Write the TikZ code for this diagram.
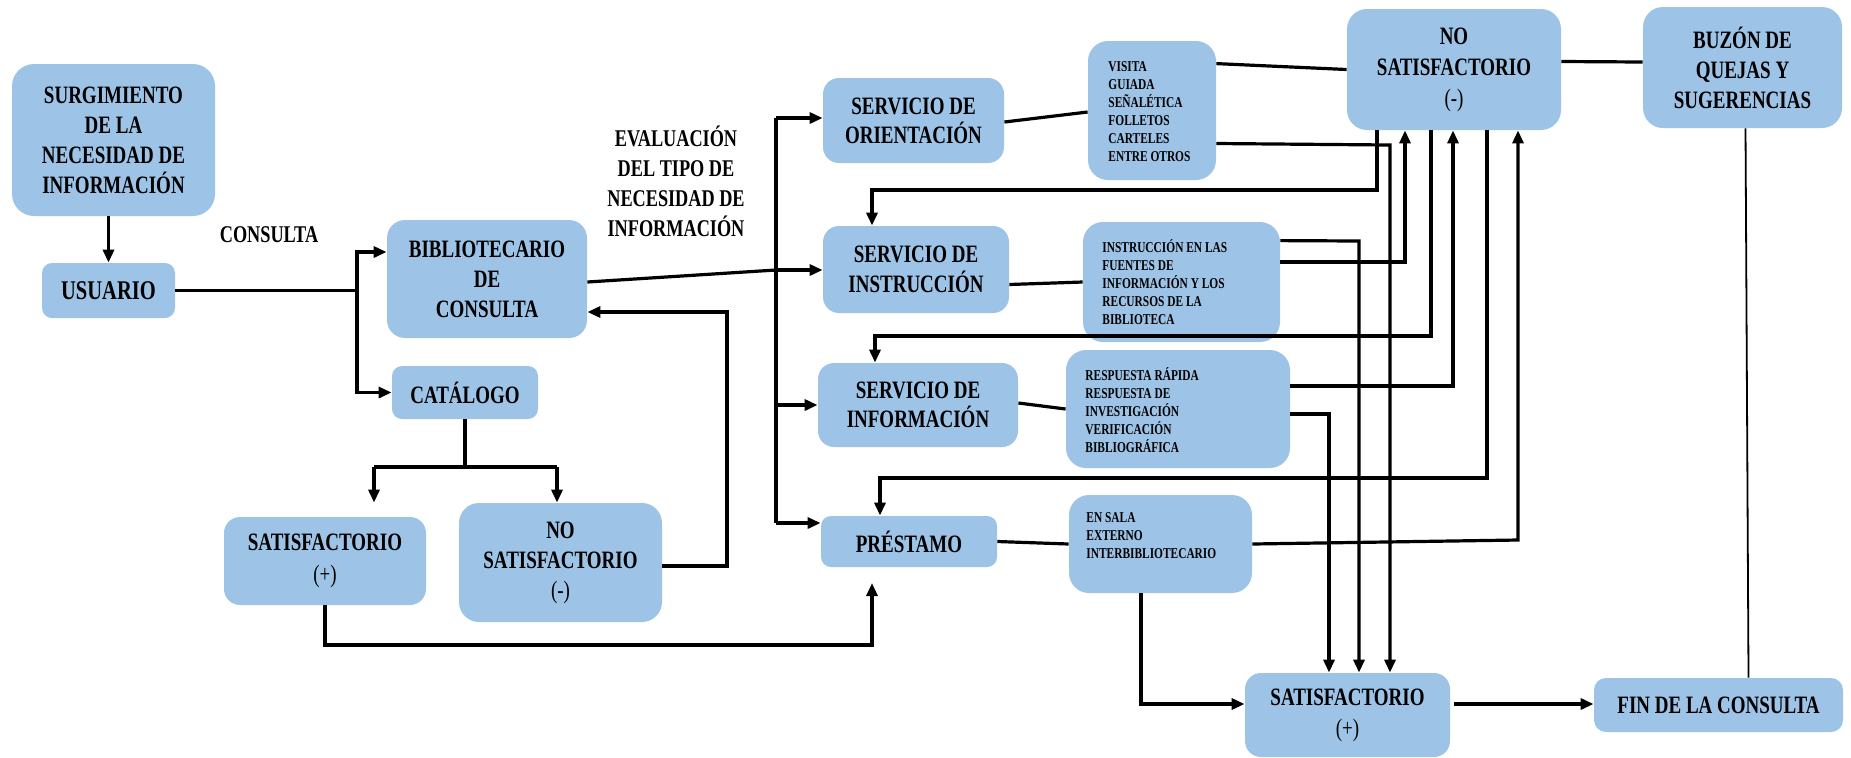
\documentclass[tikz,border=0pt]{standalone}
\usepackage{fontspec}
\setmainfont{Liberation Serif}[FakeStretch=0.76]
\usetikzlibrary{arrows.meta,calc}
\definecolor{boxblue}{RGB}{157,195,230}
\tikzset{
  box/.style={fill=boxblue, draw=none, rounded corners=8pt, inner sep=0pt, align=center,
    font=\bfseries\fontsize{12.5}{15}\selectfont},
  lst/.style={inner sep=0pt, align=left, anchor=north west,
    font=\bfseries\fontsize{7.5}{9}\selectfont},
  lbl/.style={inner sep=0pt, align=center, font=\bfseries\fontsize{12}{15}\selectfont},
  ln/.style={line width=1.6pt},
  arr/.style={line width=1.6pt, -{Triangle[length=6.5pt,width=5.5pt]}},
}
\newcommand{\thin}[1]{{\mdseries #1}}
\begin{document}
\begin{tikzpicture}[x=0.5pt,y=-0.5pt]
\useasboundingbox (0,0) rectangle (1851,757);
% boxes
\node[box, rounded corners=11pt, minimum width=101.5pt, minimum height=76pt] (surg) at (113.5,140)
  {SURGIMIENTO\\DE LA\\NECESIDAD DE\\INFORMACIÓN};
\node[box, rounded corners=5pt, minimum width=66.5pt, minimum height=27.5pt,
  font=\bfseries\fontsize{13.5}{15}\selectfont] (usuario) at (108.5,290.5) {USUARIO};
\node[box, rounded corners=9pt, minimum width=100pt, minimum height=59pt] (biblio) at (487,279)
  {BIBLIOTECARIO\\DE\\CONSULTA};
\node[box, rounded corners=5pt, minimum width=73pt, minimum height=26.5pt] (catalogo) at (465,392.5) {CATÁLOGO};
\node[box, minimum width=101pt, minimum height=44pt, font=\bfseries\fontsize{12.5}{16}\selectfont] (satL) at (325,561)
  {SATISFACTORIO\\\thin{(+)}};
\node[box, rounded corners=10pt, minimum width=101.5pt, minimum height=59.5pt] (nosatL) at (560.5,562.5)
  {NO\\SATISFACTORIO\\\thin{(-)}};
\node[box, minimum width=90.5pt, minimum height=42.5pt, font=\bfseries\fontsize{12.5}{14.5}\selectfont] (orient) at (913.5,120.5)
  {SERVICIO DE\\ORIENTACIÓN};
\node[box, rounded corners=10pt, minimum width=64pt, minimum height=69.5pt] (visita) at (1152,110.5) {};
\node[box, minimum width=93pt, minimum height=43.5pt] (instr) at (916,269.5)
  {SERVICIO DE\\INSTRUCCIÓN};
\node[box, rounded corners=10pt, minimum width=98.5pt, minimum height=60pt] (instrL) at (1181.5,282) {};
\node[box, minimum width=100pt, minimum height=42pt, font=\bfseries\fontsize{12.5}{14.5}\selectfont] (inform) at (918,405)
  {SERVICIO DE\\INFORMACIÓN};
\node[box, rounded corners=10pt, minimum width=112pt, minimum height=59pt] (resp) at (1178,409) {};
\node[box, rounded corners=5pt, minimum width=88pt, minimum height=25.5pt] (prest) at (909,541.5) {PRÉSTAMO};
\node[box, rounded corners=10pt, minimum width=91.5pt, minimum height=49pt] (ensala) at (1160.5,544) {};
\node[box, rounded corners=10pt, minimum width=107pt, minimum height=60.5pt, font=\bfseries\fontsize{12.5}{15.5}\selectfont] (nosatR) at (1454,69.5)
  {NO\\SATISFACTORIO\\\thin{(-)}};
\node[box, rounded corners=10pt, minimum width=99.5pt, minimum height=60.5pt] (buzon) at (1742.5,67.5)
  {BUZÓN DE\\QUEJAS Y\\SUGERENCIAS};
\node[box, minimum width=102.5pt, minimum height=42pt, font=\bfseries\fontsize{12.5}{15.5}\selectfont] (satB) at (1347.5,715)
  {SATISFACTORIO\\\thin{(+)}};
\node[box, rounded corners=6pt, minimum width=124.5pt, minimum height=27pt] (fin) at (1718.5,705) {FIN DE LA CONSULTA};
% list texts
\node[lst] (visitat) at (1108,61) {VISITA\\GUIADA\\SEÑALÉTICA\\FOLLETOS\\CARTELES\\ENTRE OTROS};
\node[lst] (instrLt) at (1102,239) {INSTRUCCIÓN EN LAS\\FUENTES DE\\INFORMACIÓN Y LOS\\RECURSOS DE LA\\BIBLIOTECA};
\node[lst] (respt) at (1085,367) {RESPUESTA RÁPIDA\\RESPUESTA DE\\INVESTIGACIÓN\\VERIFICACIÓN\\BIBLIOGRÁFICA};
\node[lst] (ensalat) at (1086,512) {EN SALA\\EXTERNO\\INTERBIBLIOTECARIO};
% labels
\node[lbl] (consulta) at (269,235) {CONSULTA};
\node[lbl] (evalua) at (676,181) {EVALUACIÓN\\DEL TIPO DE\\NECESIDAD DE\\INFORMACIÓN};
% coordinates
\coordinate (j1) at (357,290.5);
\coordinate (c1) at (465,467);
\coordinate (bl) at (374,467);
\coordinate (br) at (557,467);
\coordinate (r1) at (727,566);
\coordinate (s1) at (325,645);
\coordinate (s2) at (872,645);
\coordinate (s3) at (872,583);
\coordinate (t1) at (776,118);
\coordinate (t2) at (776,270);
\coordinate (t3) at (776,405);
\coordinate (t4) at (776,523);
\coordinate (v1) at (1390,145);
\coordinate (n1) at (1377,190);
\coordinate (n1b) at (872,190);
\coordinate (i1) at (1359,241);
\coordinate (i2) at (1405,262);
\coordinate (n2) at (1431,336);
\coordinate (n2b) at (875,336);
\coordinate (r2) at (1453,386);
\coordinate (r3) at (1329,414);
\coordinate (n3) at (1487,478);
\coordinate (n3b) at (880,478);
\coordinate (e1) at (1518,540);
\coordinate (e2) at (1141,704);
% connectors, left part
\draw[arr] (usuario.north |- surg.south) -- (usuario.north);
\draw[ln] (usuario.east) -- (j1);
\draw[arr] (j1) |- ($(biblio.west)+(0,-27)$);
\draw[arr] (j1) |- (catalogo.west);
\draw[ln] (catalogo.south) -- (c1);
\draw[ln] (bl) -- (br);
\draw[arr] (bl) -- (bl |- nosatL.north);
\draw[arr] (br) -- (br |- nosatL.north);
\draw[arr] (nosatL.east |- r1) -- (r1) |- ($(biblio.east)+(0,33)$);
\draw[arr] (satL.south) -- (s1) -- (s2) -- (s3);
% trunk
\draw[ln] ($(biblio.east)+(0,3)$) -- (t2);
\draw[ln] (t1) -- (t4);
\draw[arr] (t1) -- (orient.west |- t1);
\draw[arr] (t2) -- (instr.west |- t2);
\draw[arr] (t3) -- (inform.west |- t3);
\draw[arr] (t4) -- (prest.west |- t4);
% services to lists
\draw[ln] ($(orient.east)+(0,1.5)$) -- ($(visita.west)+(0,1.5)$);
\draw[ln] ($(instr.east)+(0,15)$) -- (instrL.west);
\draw[ln] ($(inform.east)+(0,-2)$) -- (resp.west);
\draw[ln] (prest.east) -- (ensala.west);
% right part
\draw[ln] ($(visita.north east)+(0,23)$) -- (nosatR.west);
\draw[arr] ($(visita.east)+(0,33)$) -- (v1) -- (v1 |- satB.north);
\draw[arr] (nosatR.south -| n1) -- (n1) -- (n1b) -- (n1b |- instr.north);
\draw[arr] ($(instrL.north east)+(0,19)$) -- (i1) -- (i1 |- satB.north);
\draw[arr] ($(instrL.east)+(0,-20)$) -- (i2) -- (i2 |- nosatR.south);
\draw[arr] (nosatR.south -| n2) -- (n2) -- (n2b) -- (n2b |- inform.north);
\draw[arr] ($(resp.east)+(0,-23)$) -- (r2) -- (r2 |- nosatR.south);
\draw[arr] ($(resp.east)+(0,5)$) -- (r3) -- (r3 |- satB.north);
\draw[arr] (nosatR.south -| n3) -- (n3) -- (n3b) -- (n3b |- prest.north);
\draw[arr] (ensala.east) -- (e1) -- (e1 |- nosatR.south);
\draw[arr] (ensala.south -| e2) -- (e2) -- (e2 -| satB.west);
\draw[ln] ($(nosatR.east)+(0,-8)$) -- ($(buzon.west)+(0,-5.5)$);
\draw[line width=0.9pt] ($(buzon.south)+(3,0)$) -- ($(fin.north)+(30,0)$);
\draw[arr] ($(satB.east)+(4,-11)$) -- ($(fin.west)+(0,-1)$);
\end{tikzpicture}
\end{document}
